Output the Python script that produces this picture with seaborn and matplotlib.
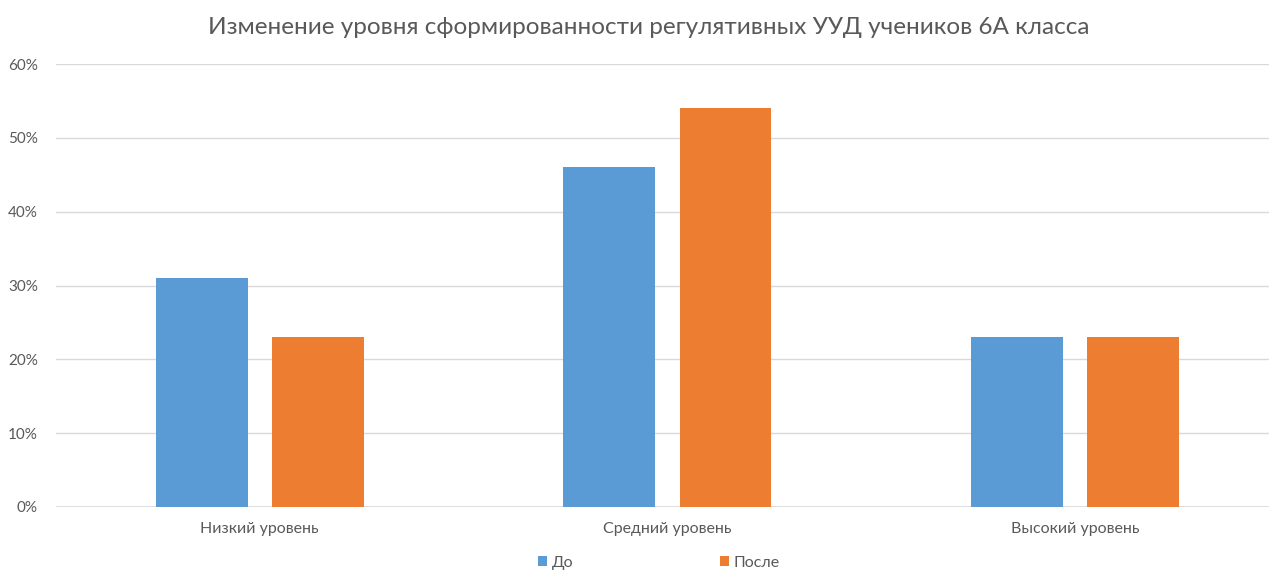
import pandas as pd
import matplotlib.pyplot as plt
import seaborn as sns
from matplotlib.ticker import PercentFormatter

# data
levels = ['Низкий уровень', 'Средний уровень', 'Высокий уровень']
before = [31, 46, 23]
after = [23, 54, 23]
series = ['До', 'После']
colors = ['#5B9BD5', '#ED7D31']
yticks = [0, 10, 20, 30, 40, 50, 60]

df = pd.DataFrame({
    'level': levels * 2,
    'value': before + after,
    'series': [series[0]] * 3 + [series[1]] * 3,
})

sns.set_theme(style='white')
plt.rcParams['font.family'] = ['Lato', 'DejaVu Sans']
text_color = '#595959'

fig = plt.figure(figsize=(12.69, 5.88), dpi=100)
ax = fig.add_axes([56 / 1269, 1 - 507 / 588, 1 - 56 / 1269, (507 - 64) / 588])

sns.barplot(data=df, x='level', y='value', hue='series', palette=colors,
            saturation=1, width=0.57, gap=0.21, linewidth=0, ax=ax, legend=True)

ax.set_xlim(-0.5, 2.476)
ax.set_ylim(0, 60)
ax.set_yticks(yticks)
ax.yaxis.set_major_formatter(PercentFormatter(decimals=0))
ax.grid(axis='y', color='#D9D9D9', linewidth=1)
ax.set_axisbelow(True)
sns.despine(ax=ax, left=True, top=True, right=True, bottom=True)
ax.axhline(0, color='#D9D9D9', linewidth=1.2, zorder=0.5)
ax.set_xlabel('')
ax.set_ylabel('')
ax.tick_params(axis='y', colors=text_color, labelsize=11, length=0, pad=13)
ax.tick_params(axis='x', colors=text_color, labelsize=11.5, length=0, pad=11)

ax.legend(loc='upper center', bbox_to_anchor=(0.497, -0.078), ncol=2,
          frameon=False, fontsize=11.5, labelcolor=text_color,
          handlelength=0.55, handleheight=0.55, handletextpad=0.3, columnspacing=9.2)

fig.text(0.511, 0.953, 'Изменение уровня сформированности регулятивных УУД учеников 6А класса',
         ha='center', va='center', fontsize=17.5, color=text_color)

fig.savefig('out.png', dpi=100)
